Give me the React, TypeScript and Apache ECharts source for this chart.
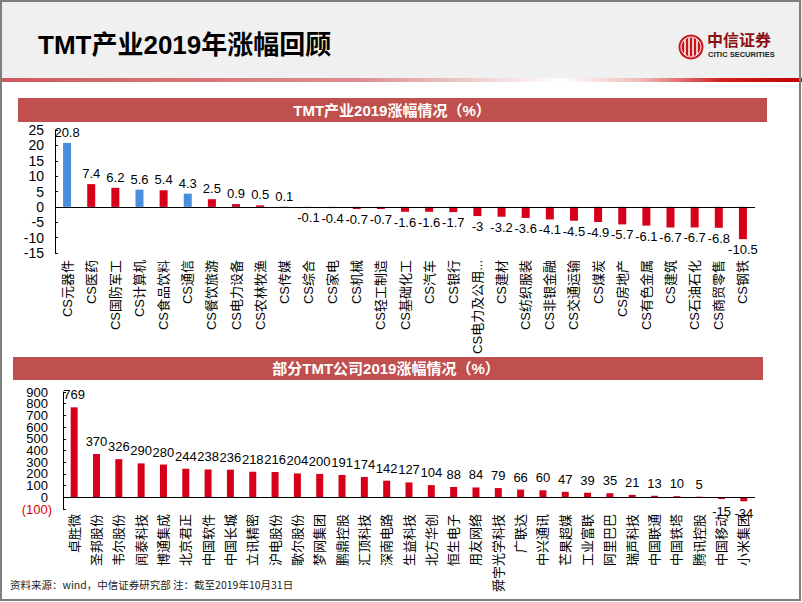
import React, { useEffect, useRef } from 'react';
import * as echarts from 'echarts';

const pageTitle = 'TMT产业2019年涨幅回顾';
const industryTitle = 'TMT产业2019涨幅情况（%）';
const companyTitle = '部分TMT公司2019涨幅情况（%）';
const sourceNote = '资料来源：wind，中信证券研究部 注：截至2019年10月31日';

const industryNames = [
  'CS元器件', 'CS医药', 'CS国防军工', 'CS计算机', 'CS食品饮料', 'CS通信', 'CS餐饮旅游', 'CS电力设备',
  'CS农林牧渔', 'CS传媒', 'CS综合', 'CS家电', 'CS机械', 'CS轻工制造', 'CS基础化工', 'CS汽车', 'CS银行',
  'CS电力及公用...', 'CS建材', 'CS纺织服装', 'CS非银金融', 'CS交通运输', 'CS煤炭', 'CS房地产',
  'CS有色金属', 'CS建筑', 'CS石油石化', 'CS商贸零售', 'CS钢铁',
];
const industryReturns = [
  20.8, 7.4, 6.2, 5.6, 5.4, 4.3, 2.5, 0.9, 0.5, 0.1, -0.1, -0.4, -0.7, -0.7, -1.6, -1.6, -1.7,
  -3, -3.2, -3.6, -4.1, -4.5, -4.9, -5.7, -6.1, -6.7, -6.7, -6.8, -10.5,
];
const tmtIndustries = ['CS元器件', 'CS计算机', 'CS通信', 'CS传媒'];

const companyNames = [
  '卓胜微', '圣邦股份', '韦尔股份', '闻泰科技', '博通集成', '北京君正', '中国软件', '中国长城', '立讯精密',
  '沪电股份', '歌尔股份', '梦网集团', '鹏鼎控股', '汇顶科技', '深南电路', '生益科技', '北方华创', '恒生电子',
  '用友网络', '舜宇光学科技', '广联达', '中兴通讯', '芒果超媒', '工业富联', '阿里巴巴', '瑞声科技', '中国联通',
  '中国铁塔', '腾讯控股', '中国移动', '小米集团',
];
const companyReturns = [
  769, 370, 326, 290, 280, 244, 238, 236, 218, 216, 204, 200, 191, 174, 142, 127, 104, 88, 84, 79,
  66, 60, 47, 39, 35, 21, 13, 10, 5, -15, -34,
];

// y-axis scales; the company axis labels (-100..900 every 100) are split over two
// aligned axes (odd and even hundreds) so that none of them gets auto-hidden.
const industryTicks = { min: -15, max: 25, interval: 5 };
const companyTicks = { min: -100, max: 900, interval: 200 };
const companyTicksEven = { min: 0, max: 800, interval: 200 };

const RED = '#d7001b';
const BLUE = '#4a8fdc';
const BAR_RED = '#c0504d';
const FONT = '"Liberation Sans", Arial, "Noto Sans CJK SC", sans-serif';

export default function App() {
  const ref = useRef<HTMLDivElement>(null);

  useEffect(() => {
    if (!ref.current) return;
    const chart = echarts.init(ref.current, null, { renderer: 'svg' });

    const industryData = industryReturns.map((v, i) => ({
      value: v,
      itemStyle: { color: tmtIndustries.includes(industryNames[i]) ? BLUE : RED },
      label: { position: v < 0 ? 'bottom' : 'top' },
    }));
    const companyData = companyReturns.map((v) => ({
      value: v,
      itemStyle: { color: RED },
      label: { position: v < 0 ? 'bottom' : 'top' },
    }));

    const zeroLine = {
      silent: true,
      symbol: 'none',
      label: { show: false },
      lineStyle: { color: '#000', type: 'solid', width: 1 },
      data: [{ yAxis: 0 }],
    };

    const lineGrad = new echarts.graphic.LinearGradient(0, 0, 1, 0, [
      { offset: 0, color: '#cd5a5e' },
      { offset: 0.45, color: '#dc8e90' },
      { offset: 0.7, color: '#ffffff' },
      { offset: 0.8, color: '#f0b8b8' },
      { offset: 0.9, color: '#d02020' },
      { offset: 1, color: '#c00000' },
    ]);

    // company grid geometry (value -100 .. 900)
    const cTop = 392;
    const cHeight = 117;
    const span = companyTicks.max - companyTicks.min;
    const evenTop = cTop + (cHeight * (companyTicks.max - companyTicksEven.max)) / span;
    const evenHeight = (cHeight * (companyTicksEven.max - companyTicksEven.min)) / span;

    const companyLabel = {
      fontSize: 13,
      margin: 11,
      fontFamily: FONT,
      showMinLabel: true,
      showMaxLabel: true,
      formatter: (v: number) => (v < 0 ? `{n|(${Math.abs(v)})}` : `{p|${v}}`),
      rich: {
        n: { color: '#e00000', fontSize: 13, fontFamily: FONT },
        p: { color: '#000', fontSize: 13, fontFamily: FONT, padding: [0, 4, 0, 0] },
      },
    };

    const option: any = {
      animation: false,
      backgroundColor: '#ffffff',
      textStyle: { fontFamily: FONT },
      grid: [
        { left: 55, top: 130, width: 700, height: 123, containLabel: false, outerBoundsMode: 'none' },
        { left: 63, top: cTop, width: 692, height: cHeight, containLabel: false, outerBoundsMode: 'none' },
        { left: 63, top: evenTop, width: 692, height: evenHeight, containLabel: false, outerBoundsMode: 'none' },
      ],
      xAxis: [
        {
          type: 'category',
          gridIndex: 0,
          data: industryNames,
          axisLine: { show: false },
          axisTick: { show: false },
          axisLabel: { rotate: 90, interval: 0, fontSize: 13, color: '#000', margin: 7, fontFamily: FONT },
        },
        {
          type: 'category',
          gridIndex: 1,
          data: companyNames,
          axisLine: { show: false },
          axisTick: { show: false },
          axisLabel: { rotate: 90, interval: 0, fontSize: 13, color: '#000', margin: 5, fontFamily: FONT },
        },
        {
          type: 'category',
          gridIndex: 2,
          data: companyNames,
          show: false,
        },
      ],
      yAxis: [
        {
          type: 'value',
          gridIndex: 0,
          min: industryTicks.min,
          max: industryTicks.max,
          interval: industryTicks.interval,
          splitLine: { show: false },
          axisLine: { show: true, lineStyle: { color: '#000' } },
          axisTick: { show: true, inside: true, length: 3, lineStyle: { color: '#000' } },
          axisLabel: {
            fontSize: 14, color: '#000', margin: 11, fontFamily: FONT,
            showMinLabel: true, showMaxLabel: true,
          },
        },
        {
          type: 'value',
          gridIndex: 1,
          min: companyTicks.min,
          max: companyTicks.max,
          interval: companyTicks.interval,
          splitLine: { show: false },
          axisLine: { show: true, lineStyle: { color: '#000' } },
          axisTick: { show: true, inside: true, length: 3, lineStyle: { color: '#000' } },
          axisLabel: companyLabel,
        },
        {
          type: 'value',
          gridIndex: 2,
          min: companyTicksEven.min,
          max: companyTicksEven.max,
          interval: companyTicksEven.interval,
          splitLine: { show: false },
          axisLine: { show: false },
          axisTick: { show: true, inside: true, length: 3, lineStyle: { color: '#000' } },
          axisLabel: companyLabel,
        },
      ],
      series: [
        {
          type: 'bar',
          xAxisIndex: 0,
          yAxisIndex: 0,
          barWidth: 8,
          data: industryData,
          label: { show: true, distance: 4, fontSize: 13, color: '#000', fontFamily: FONT },
          markLine: zeroLine,
        },
        {
          type: 'bar',
          xAxisIndex: 1,
          yAxisIndex: 1,
          barWidth: 7,
          data: companyData,
          label: { show: true, distance: 6, fontSize: 13, color: '#000', fontFamily: FONT },
          markLine: zeroLine,
        },
      ],
      graphic: [
        { type: 'rect', z: -10, shape: { x: 0, y: 0, width: 802, height: 78 }, style: { fill: '#f0f0f0' } },
        { type: 'rect', z: -9, shape: { x: 0, y: 78, width: 802, height: 4 }, style: { fill: lineGrad } },
        {
          type: 'text', x: 38, y: 45,
          style: {
            text: pageTitle, fill: '#000', fontSize: 26, fontWeight: 'bold',
            fontFamily: FONT, verticalAlign: 'middle', align: 'left',
          },
        },
        { type: 'circle', shape: { cx: 691, cy: 47, r: 12.5 }, style: { fill: '#c8161d' } },
        { type: 'circle', shape: { cx: 691, cy: 47, r: 10 }, style: { fill: 'none', stroke: '#fff', lineWidth: 1 } },
        { type: 'line', shape: { x1: 685, y1: 39, x2: 685, y2: 55 }, style: { stroke: '#fff', lineWidth: 1.5 } },
        { type: 'line', shape: { x1: 689, y1: 38, x2: 689, y2: 56 }, style: { stroke: '#fff', lineWidth: 1.5 } },
        { type: 'line', shape: { x1: 693, y1: 38, x2: 693, y2: 56 }, style: { stroke: '#fff', lineWidth: 1.5 } },
        { type: 'line', shape: { x1: 697, y1: 39, x2: 697, y2: 55 }, style: { stroke: '#fff', lineWidth: 1.5 } },
        {
          type: 'text', x: 707, y: 39,
          style: {
            text: '中信证券', fill: '#8c1014', fontSize: 16, fontWeight: 'bold', lineHeight: 14,
            fontFamily: '"Noto Sans CJK SC", sans-serif', verticalAlign: 'middle', align: 'left',
          },
        },
        {
          type: 'text', x: 708, y: 54,
          style: {
            text: 'CITIC SECURITIES', fill: '#222', fontSize: 7.5, fontWeight: 'bold', lineHeight: 7,
            fontFamily: FONT, verticalAlign: 'middle', align: 'left',
          },
        },
        { type: 'rect', z: -5, shape: { x: 18, y: 98, width: 749, height: 24 }, style: { fill: BAR_RED } },
        {
          type: 'text', x: 392, y: 110,
          style: {
            text: industryTitle, fill: '#fff', fontSize: 15, fontWeight: 'bold',
            fontFamily: FONT, verticalAlign: 'middle', align: 'center',
          },
        },
        { type: 'rect', z: -5, shape: { x: 13, y: 357, width: 750, height: 23 }, style: { fill: BAR_RED } },
        {
          type: 'text', x: 386, y: 368.5,
          style: {
            text: companyTitle, fill: '#fff', fontSize: 15, fontWeight: 'bold',
            fontFamily: FONT, verticalAlign: 'middle', align: 'center',
          },
        },
        {
          type: 'text', x: 10, y: 584,
          style: {
            text: sourceNote, fill: '#222', fontSize: 10.5,
            fontFamily: '"Noto Sans CJK SC", sans-serif', verticalAlign: 'middle', align: 'left',
          },
        },
        {
          type: 'rect', z: 100, shape: { x: 1, y: 1, width: 799, height: 599 },
          style: { fill: 'none', stroke: '#7f7f7f', lineWidth: 2 },
        },
      ],
    };

    chart.setOption(option);
    return () => chart.dispose();
  }, []);

  return (
    <div
      ref={ref}
      style={{ position: 'fixed', left: 0, top: 0, width: 802, height: 602, background: '#fff' }}
    />
  );
}
